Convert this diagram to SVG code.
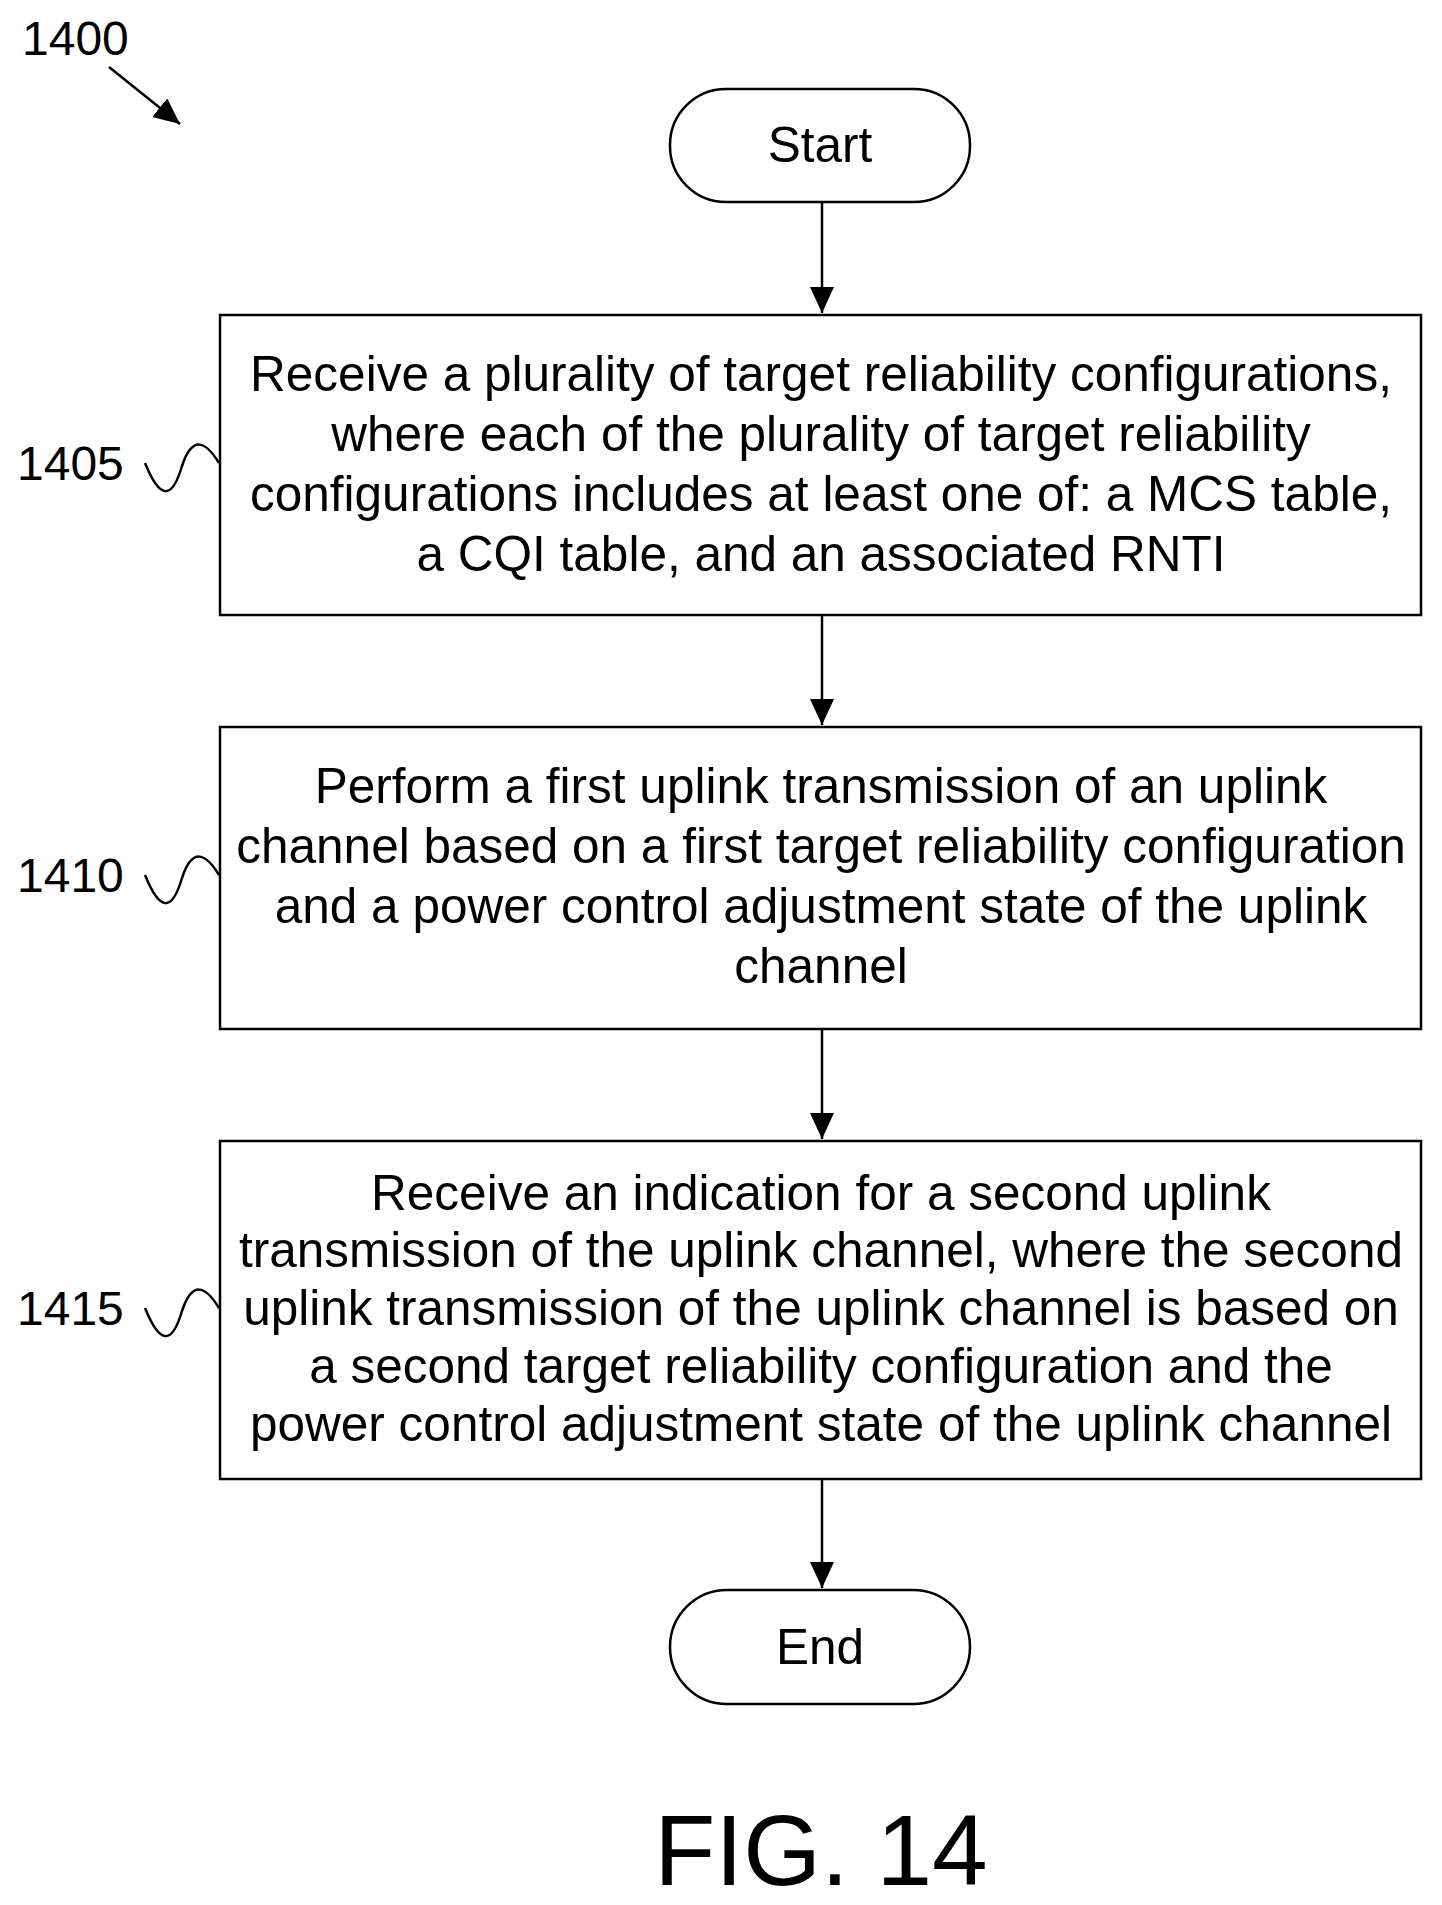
<svg xmlns="http://www.w3.org/2000/svg" width="1442" height="1905" viewBox="0 0 1442 1905">
<defs>
<marker id="big" markerWidth="26" markerHeight="24" refX="26" refY="12" orient="auto" markerUnits="userSpaceOnUse"><path d="M0,0 L26,12 L0,24 z" fill="#000"/></marker>
<style>
.b{fill:#fff;stroke:#000;stroke-width:2.5}
.t{font-family:"Liberation Sans",Arial,sans-serif;font-size:49.5px;text-anchor:middle;fill:#000}
.l{font-family:"Liberation Sans",Arial,sans-serif;font-size:48px;fill:#000}
.c{stroke:#000;stroke-width:2.5;fill:none}
</style>
</defs>
<rect width="1442" height="1905" fill="#fff"/>
<text class="l" x="22" y="55">1400</text>
<path class="c" d="M109,67 L180,124" marker-end="url(#big)"/>
<g id="start"><rect class="b" x="670" y="89" width="300" height="113" rx="56"/><text class="t" x="820" y="162">Start</text></g>
<g id="n1405"><rect class="b" x="220" y="315" width="1201" height="300"/>
<text class="t" x="821" y="391">Receive a plurality of target reliability configurations,</text>
<text class="t" x="821" y="451">where each of the plurality of target reliability</text>
<text class="t" x="821" y="511">configurations includes at least one of: a MCS table,</text>
<text class="t" x="821" y="571">a CQI table, and an associated RNTI</text>
<text class="l" x="17" y="480">1405</text>
<path class="c" d="M145,463 C160,500 172,500 182,466 C192,436 205,440 219,463"/></g>
<g id="n1410"><rect class="b" x="220" y="727" width="1201" height="302"/>
<text class="t" x="821" y="803">Perform a first uplink transmission of an uplink</text>
<text class="t" x="821" y="863">channel based on a first target reliability configuration</text>
<text class="t" x="821" y="923">and a power control adjustment state of the uplink</text>
<text class="t" x="821" y="983">channel</text>
<text class="l" x="17" y="892">1410</text>
<path class="c" d="M145,875 C160,912 172,912 182,878 C192,848 205,852 219,875"/></g>
<g id="n1415"><rect class="b" x="220" y="1141" width="1201" height="338"/>
<text class="t" x="821" y="1210">Receive an indication for a second uplink</text>
<text class="t" x="821" y="1267">transmission of the uplink channel, where the second</text>
<text class="t" x="821" y="1325">uplink transmission of the uplink channel is based on</text>
<text class="t" x="821" y="1383">a second target reliability configuration and the</text>
<text class="t" x="821" y="1441">power control adjustment state of the uplink channel</text>
<text class="l" x="17" y="1325">1415</text>
<path class="c" d="M145,1308 C160,1345 172,1345 182,1311 C192,1281 205,1285 219,1308"/></g>
<g id="end"><rect class="b" x="670" y="1590" width="300" height="114" rx="57"/><text class="t" x="820" y="1664">End</text></g>
<g id="connectors">
<path class="c" d="M822,202 V313" marker-end="url(#big)"/>
<path class="c" d="M822,615 V725" marker-end="url(#big)"/>
<path class="c" d="M822,1029 V1139" marker-end="url(#big)"/>
<path class="c" d="M822,1479 V1588" marker-end="url(#big)"/>
</g>
<text class="t" x="821" y="1885" style="font-size:100px">FIG. 14</text>
</svg>
